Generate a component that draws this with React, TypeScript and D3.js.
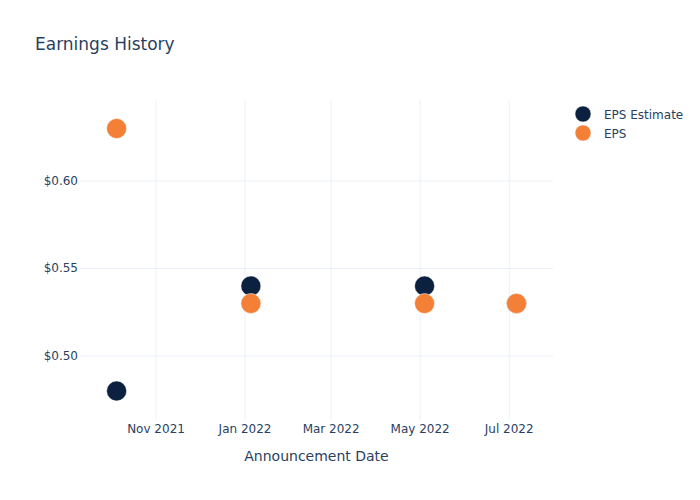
import React from "react";
import * as d3 from "d3";

const dates = ["2021-10-05", "2022-01-05", "2022-05-04", "2022-07-06"];
const epsEstimate = [0.48, 0.54, 0.54, 0.53];
const epsActual = [0.63, 0.53, 0.53, 0.53];
const xTickLabels = ["2021-11-01", "2022-01-01", "2022-03-01", "2022-05-01", "2022-07-01"];
const yTickValues = [0.5, 0.55, 0.6];
const seriesNames = ["EPS Estimate", "EPS"];
const seriesColors = ["#0c2040", "#f47f36"];

const W = 700, H = 500;
const M = { l: 80, r: 147, t: 100, b: 80 };
const FONT = "'DejaVu Sans', Verdana, sans-serif";
const TXT = "#2a3f5f";
const GRID = "#ebf0f8";

export default function App() {
  const parse = d3.utcParse("%Y-%m-%d");
  const x = d3
    .scaleUtc()
    .domain([Date.UTC(2021, 8, 9, 22), Date.UTC(2022, 6, 31)])
    .range([M.l, W - M.r]);
  const y = d3.scaleLinear().domain([0.4634, 0.6463]).range([H - M.b, M.t]);
  const fmtX = d3.utcFormat("%b %Y");
  const fmtY = d3.format("$.2f");
  const series = [epsEstimate, epsActual];
  const xTicks = xTickLabels.map((d) => parse(d) as Date);

  return (
    <svg width={W} height={H} style={{ position: "absolute", left: 0, top: 0, fontFamily: FONT }}>
      <rect width={W} height={H} fill="#fff" />
      {xTicks.map((t, i) => (
        <line key={"gx" + i} x1={x(t)} x2={x(t)} y1={M.t} y2={H - M.b} stroke={GRID} strokeWidth={1} />
      ))}
      {yTickValues.map((v, i) => (
        <line key={"gy" + i} x1={M.l} x2={W - M.r} y1={y(v)} y2={y(v)} stroke={GRID} strokeWidth={1} />
      ))}
      {xTicks.map((t, i) => (
        <text key={"tx" + i} x={x(t)} y={H - M.b + 13} textAnchor="middle" fontSize={12} fill={TXT}>
          {fmtX(t)}
        </text>
      ))}
      {yTickValues.map((v, i) => (
        <text key={"ty" + i} x={M.l - 2} y={y(v) + 4} textAnchor="end" fontSize={12} fill={TXT}>
          {fmtY(v)}
        </text>
      ))}
      {series.map((vals, si) =>
        vals.map((v, i) => (
          <circle
            key={si + "-" + i}
            cx={x(parse(dates[i]) as Date)}
            cy={y(v)}
            r={10}
            fill={seriesColors[si]}
            stroke="#fff"
            strokeWidth={0.5}
          />
        ))
      )}
      <text x={35} y={50} fontSize={17} fill={TXT}>Earnings History</text>
      <text x={(M.l + W - M.r) / 2} y={461} textAnchor="middle" fontSize={14} fill={TXT}>
        Announcement Date
      </text>
      {seriesNames.map((n, i) => (
        <g key={n} transform={`translate(583, ${114 + i * 19})`}>
          <circle r={8} fill={seriesColors[i]} stroke="#fff" strokeWidth={0.5} />
          <text x={21} y={4.5} fontSize={12} fill={TXT}>{n}</text>
        </g>
      ))}
    </svg>
  );
}
